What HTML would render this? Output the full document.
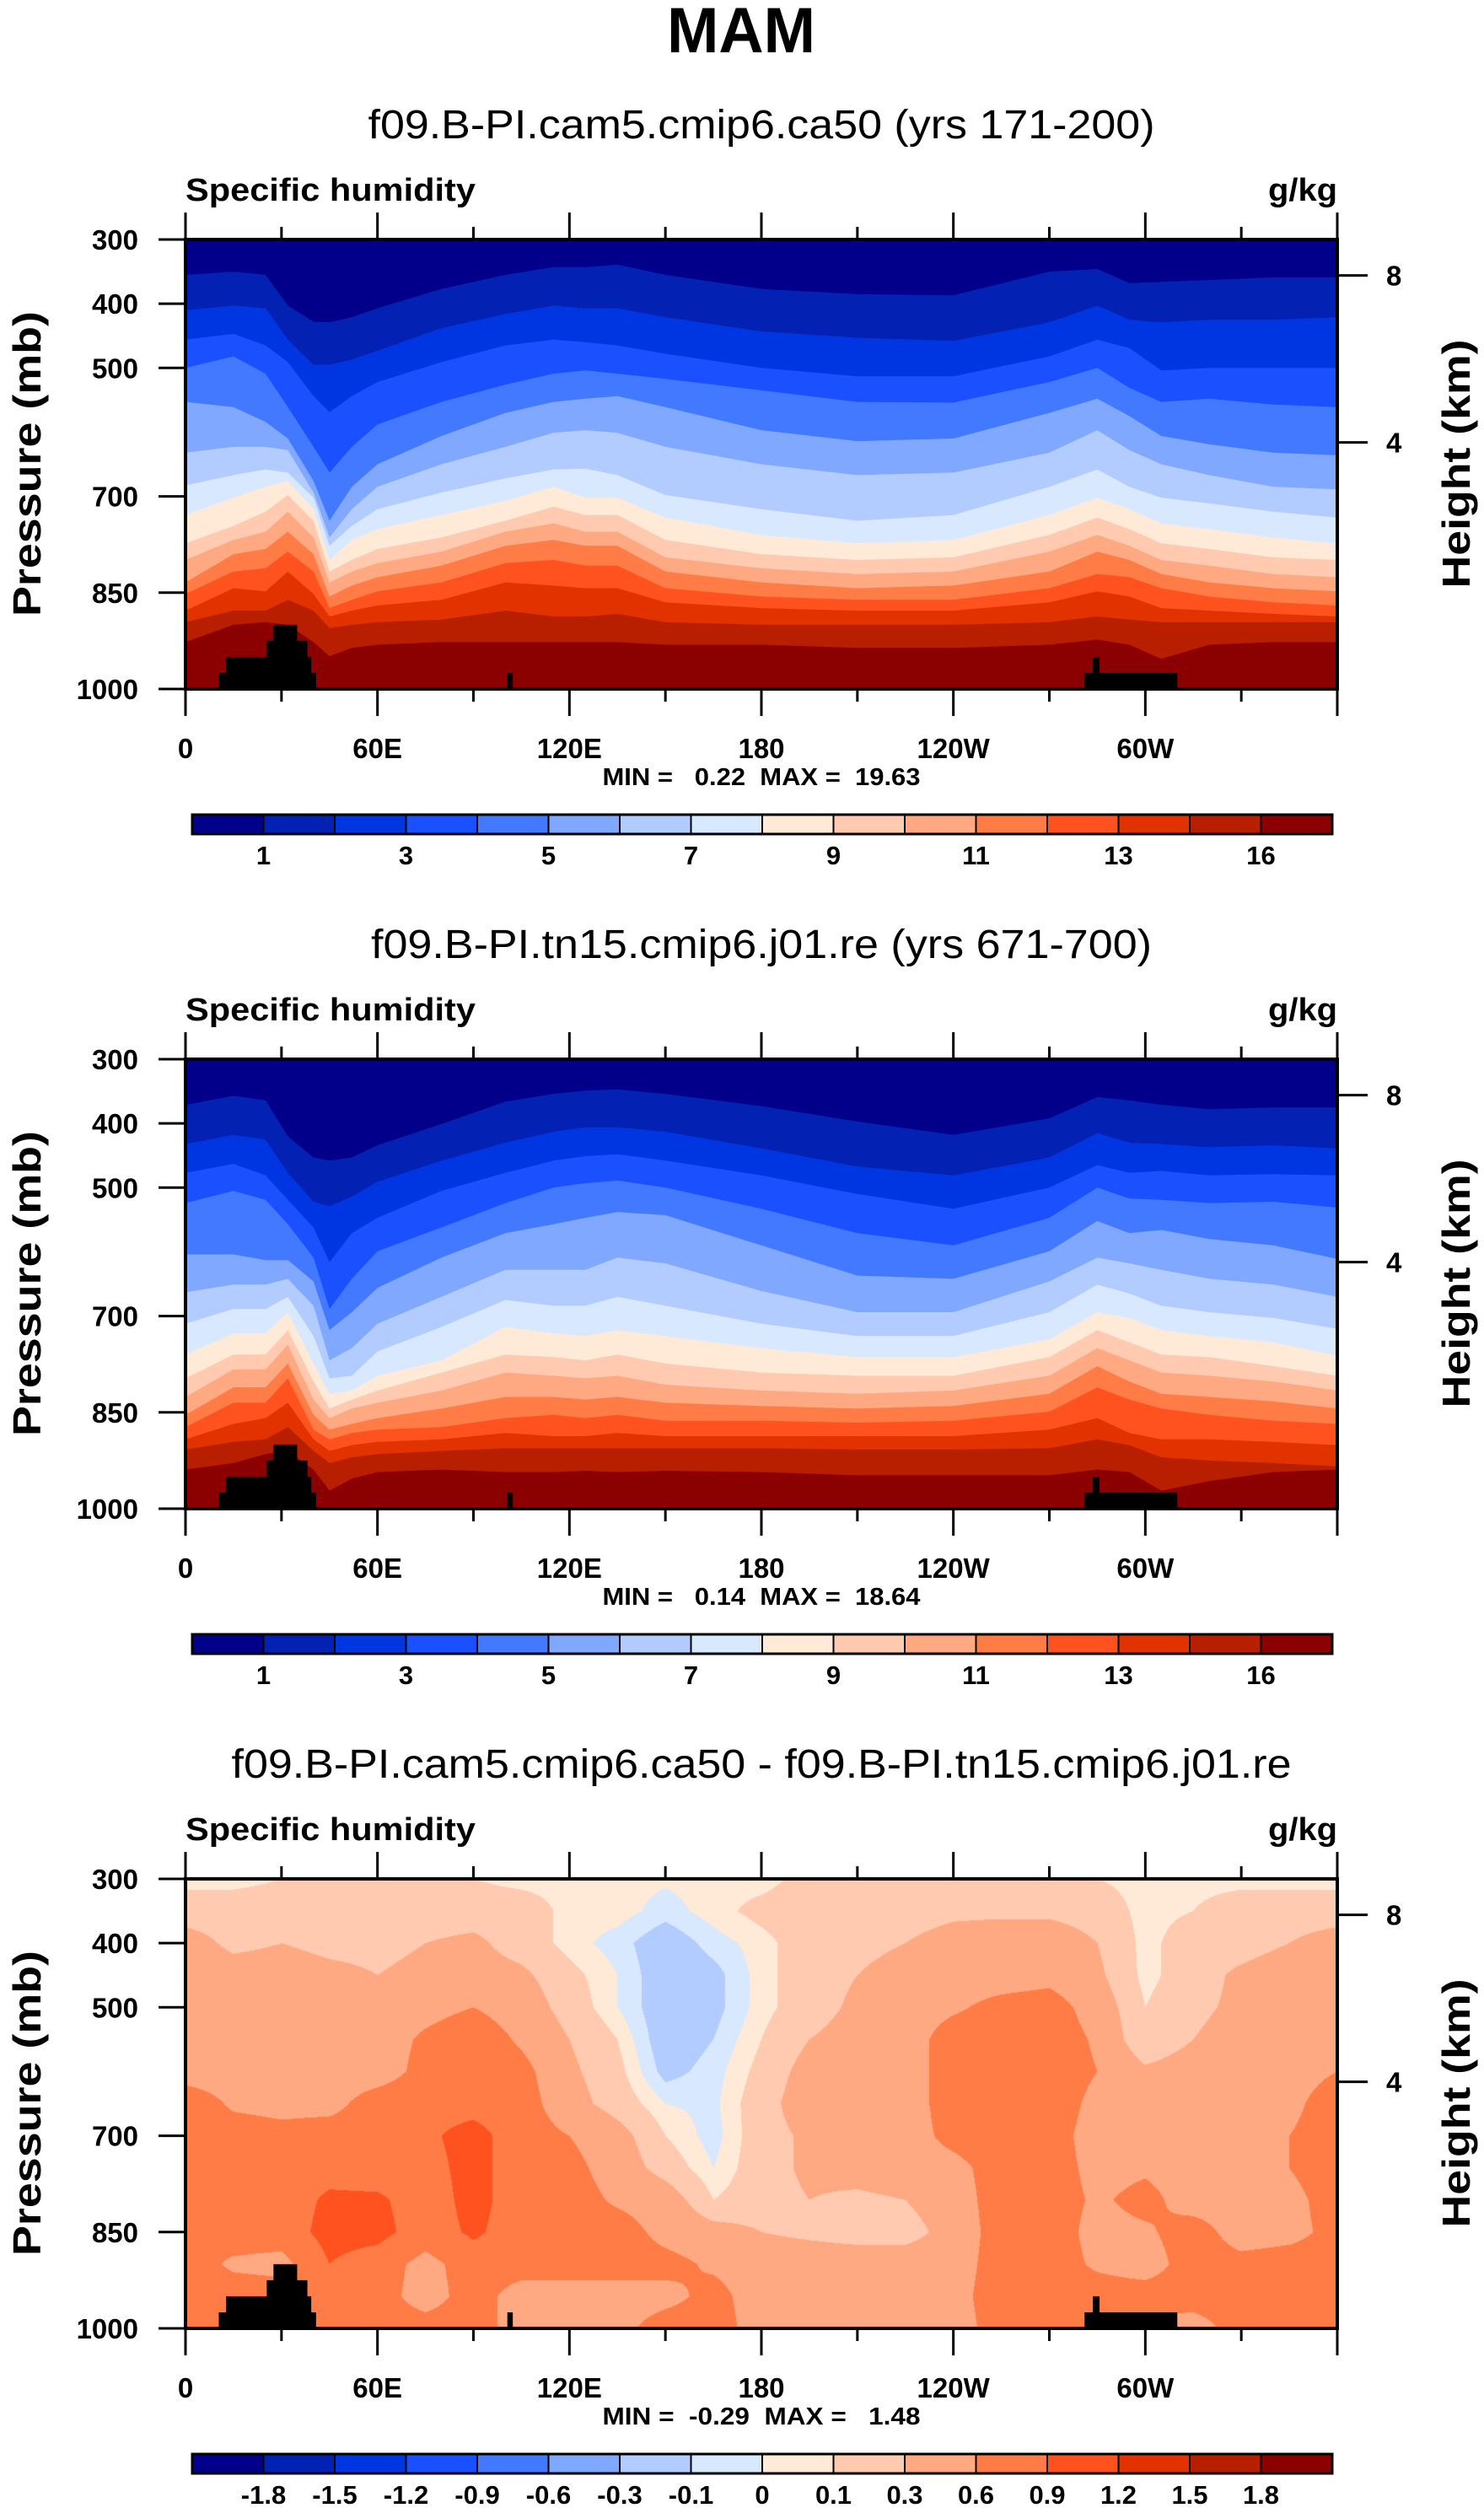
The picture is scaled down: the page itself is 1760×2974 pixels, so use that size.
<!DOCTYPE html>
<html><head><meta charset="utf-8">
<style>
html,body{margin:0;padding:0;background:#fff;}
#wrap{position:relative;width:1760px;height:2974px;overflow:hidden;background:#fff;}
#diffCanvas{position:absolute;left:220px;top:2228px;z-index:1;}
#chart{position:absolute;left:0;top:0;z-index:2;}
text{font-family:"Liberation Sans",sans-serif;white-space:pre;}
</style></head>
<body>
<div id="wrap">
<canvas id="diffCanvas" width="1366" height="533"></canvas>
<svg id="chart" width="1760" height="2974" xmlns="http://www.w3.org/2000/svg">
<text x="879" y="62" font-size="76" font-weight="bold" text-anchor="middle" textLength="176" lengthAdjust="spacingAndGlyphs">MAM</text>
</svg>
</div>
<script>
// ---------------- data ----------------
const lonSamples = [0,15,25,32,40,45,52,60,80,100,115,125,135,150,180,210,240,270,285,295,305,320,340,360];
// pressure (hPa) of each contour boundary (band k/k+1) at lonSamples — panel 1
const panel1Boundaries = [
 [355,350,355,403,428,429,421,407,377,355,343,343,339,355,377,385,387,350,346,368,366,363,359,359],
 [410,403,407,456,495,495,487,473,438,416,403,407,407,421,443,453,458,429,403,425,429,425,425,421],
 [456,447,465,491,544,569,544,522,491,465,456,460,465,478,500,513,513,482,456,469,504,500,500,500],
 [500,482,509,561,623,663,623,588,553,526,509,504,509,517,535,553,554,522,500,531,553,548,557,561],
 [553,561,584,610,676,738,685,650,606,570,553,548,544,561,597,614,610,570,548,575,606,619,632,636],
 [632,623,623,628,694,764,720,685,650,623,601,597,601,623,650,667,663,632,597,628,650,667,685,689],
 [683,667,658,663,702,777,746,720,694,672,658,657,667,698,720,738,729,685,658,685,702,711,724,733],
 [729,702,685,676,720,799,768,751,729,707,685,702,702,733,760,773,768,729,702,720,742,751,764,773],
 [773,746,724,698,738,817,799,782,764,738,716,729,729,768,790,799,795,760,733,751,773,782,795,799],
 [799,768,755,724,764,834,817,804,786,755,742,755,755,795,812,821,817,786,760,777,799,808,821,826],
 [834,790,782,755,790,856,839,826,808,777,768,777,777,817,834,843,839,817,786,799,821,834,843,848],
 [852,817,812,786,817,874,861,848,834,804,799,808,808,843,856,861,861,843,821,826,843,856,865,870],
 [878,843,848,817,852,887,878,870,861,834,839,843,843,865,874,878,878,865,848,856,874,878,883,887],
 [896,878,878,861,878,905,900,896,892,878,887,887,883,896,900,900,900,896,887,892,896,896,896,896],
 [927,900,896,900,927,949,936,931,927,927,927,927,927,931,931,936,936,931,923,931,953,931,927,927]
];
// panel 2
const panel2Boundaries = [
 [371,357,364,420,453,458,453,434,401,366,354,349,347,354,373,397,418,392,359,364,371,378,375,375],
 [432,418,425,477,522,529,514,491,458,430,413,406,406,413,439,467,481,453,415,430,432,437,434,439],
 [477,463,481,519,562,616,571,547,505,477,458,451,448,458,481,510,533,500,465,477,474,481,479,481],
 [524,505,519,557,609,689,642,599,562,524,500,493,489,500,533,571,590,547,500,517,519,524,522,531],
 [604,604,613,613,646,722,694,656,609,571,557,547,538,543,590,637,642,599,552,571,566,580,590,611],
 [663,651,651,642,684,769,750,712,670,628,628,628,609,618,661,694,694,646,609,618,628,642,651,670],
 [712,689,689,670,731,797,793,755,717,675,684,684,670,684,712,731,731,694,651,665,684,694,703,720],
 [760,727,727,694,774,821,816,793,769,717,727,731,722,731,750,764,764,736,694,703,722,731,741,762],
 [797,760,760,722,802,844,830,816,788,760,764,769,760,774,788,793,793,764,722,741,760,764,778,793],
 [826,783,783,745,830,859,844,835,816,788,793,797,793,807,816,821,816,793,750,769,788,793,802,816],
 [854,811,811,774,854,877,868,859,844,826,826,830,826,835,840,844,840,821,778,802,821,826,833,844],
 [873,835,835,797,877,892,882,877,873,859,854,859,854,863,863,866,863,849,811,830,844,854,863,868],
 [892,868,859,835,892,910,901,896,892,882,887,887,882,887,887,887,887,877,859,882,892,892,896,901],
 [908,896,892,873,910,929,920,915,910,906,906,906,906,906,906,908,908,906,892,901,920,925,929,934],
 [939,929,915,910,939,972,953,943,939,943,943,941,943,941,943,948,948,948,939,943,972,957,943,939]
];
// difference field grid (g/kg): rows = diffPres, cols = diffLons
const diffLons = [0,15,30,45,60,75,90,105,120,135,150,165,180,195,210,225,240,255,270,285,300,315,330,345,360];
const diffPres = [300,350,400,450,500,550,600,650,700,750,800,850,900,950,1000];
const diffValues = [
 [0.05,0.05,0.1,0.1,0.1,0.1,0.1,0.05,0.05,0.05,0.02,0.05,0.05,0.15,0.15,0.2,0.2,0.2,0.2,0.1,0.05,0.05,0.05,0.05,0.05],
 [0.2,0.2,0.2,0.2,0.2,0.2,0.2,0.2,0.05,0.05,-0.05,0.05,0.15,0.2,0.2,0.2,0.25,0.25,0.25,0.2,0.05,0.1,0.2,0.2,0.2],
 [0.4,0.25,0.3,0.25,0.25,0.3,0.35,0.2,0.05,-0.05,-0.2,-0.05,0.05,0.2,0.2,0.3,0.4,0.45,0.45,0.3,0.05,0.2,0.2,0.3,0.4],
 [0.45,0.4,0.4,0.35,0.3,0.35,0.4,0.35,0.15,0.0,-0.2,-0.15,0.05,0.2,0.3,0.45,0.45,0.45,0.5,0.35,0.05,0.2,0.35,0.45,0.45],
 [0.45,0.45,0.45,0.45,0.45,0.5,0.6,0.45,0.2,0.0,-0.2,-0.15,0.05,0.2,0.35,0.45,0.55,0.7,0.75,0.45,0.1,0.25,0.35,0.45,0.45],
 [0.45,0.45,0.45,0.45,0.45,0.65,0.8,0.55,0.3,0.1,-0.2,-0.1,0.1,0.3,0.4,0.45,0.75,0.8,0.8,0.55,0.1,0.3,0.4,0.45,0.45],
 [0.45,0.45,0.45,0.45,0.45,0.7,0.8,0.7,0.35,0.15,-0.15,-0.05,0.15,0.4,0.45,0.45,0.75,0.8,0.8,0.6,0.35,0.45,0.45,0.45,0.6],
 [0.8,0.55,0.5,0.5,0.75,0.8,0.8,0.75,0.4,0.2,0.0,-0.03,0.2,0.45,0.45,0.45,0.75,0.8,0.8,0.5,0.45,0.45,0.45,0.5,0.8],
 [0.75,0.75,0.7,0.75,0.75,0.85,1.0,0.75,0.6,0.4,0.1,-0.05,0.2,0.35,0.4,0.45,0.7,0.8,0.75,0.45,0.45,0.45,0.45,0.6,0.8],
 [0.75,0.75,0.75,0.8,0.75,0.8,1.0,0.75,0.7,0.45,0.2,0.0,0.2,0.35,0.4,0.45,0.5,0.75,0.75,0.5,0.55,0.45,0.45,0.6,0.8],
 [0.75,0.75,0.75,0.95,0.95,0.75,1.0,0.75,0.75,0.55,0.45,0.1,0.2,0.3,0.25,0.3,0.45,0.75,0.75,0.55,0.7,0.45,0.45,0.5,0.75],
 [0.6,0.75,0.75,1.0,1.0,0.75,0.95,0.75,0.75,0.75,0.5,0.4,0.3,0.25,0.2,0.2,0.4,0.75,0.75,0.5,0.55,0.75,0.45,0.5,0.7],
 [0.75,0.55,0.5,0.9,0.75,0.5,0.75,0.75,0.75,0.75,0.7,0.55,0.45,0.45,0.45,0.45,0.45,0.75,0.75,0.55,0.45,0.75,0.7,0.75,0.75],
 [0.75,0.75,0.75,0.75,0.75,0.45,0.75,0.45,0.45,0.45,0.5,0.7,0.45,0.45,0.45,0.45,0.5,0.75,0.75,0.75,0.75,0.75,0.75,0.75,0.75],
 [0.75,0.75,0.75,0.75,0.75,0.75,0.75,0.45,0.45,0.5,0.75,0.75,0.45,0.45,0.45,0.45,0.45,0.75,0.8,0.75,0.5,0.45,0.75,0.75,0.75]
];
const diffLevels = [-1.8,-1.5,-1.2,-0.9,-0.6,-0.3,-0.1,0,0.1,0.3,0.6,0.9,1.2,1.5,1.8];
// topography (surface pressure blocks)
const landLonStart = [10.4,12.7,25.4,27.5,100.6,281,283.6];
const landLonEnd = [40.8,39.3,38.1,34.9,102.3,310,285.7];
const landP = [975,950,925,900,975,975,950];
// axes
const lonTicks = [0,30,60,90,120,150,180,210,240,270,300,330,360];
const lonLabelVals = [0,60,120,180,240,300];
const lonLabels = ['0','60E','120E','180','120W','60W'];
const presTicks = [300,400,500,700,850,1000];
const heightTickP = [356,616];
const heightLabels = ['8','4'];
const cbLabelsQ = ['1','3','5','7','9','11','13','16'];
const cbLabelsQPos = [1,3,5,7,9,11,13,15];
const cbLabelsD = ['-1.8','-1.5','-1.2','-0.9','-0.6','-0.3','-0.1','0','0.1','0.3','0.6','0.9','1.2','1.5','1.8'];
const cbLabelsDPos = [1,2,3,4,5,6,7,8,9,10,11,12,13,14,15];
const subtitles = ['f09.B-PI.cam5.cmip6.ca50 (yrs 171-200)','f09.B-PI.tn15.cmip6.j01.re (yrs 671-700)','f09.B-PI.cam5.cmip6.ca50 - f09.B-PI.tn15.cmip6.j01.re'];
const minMax = ['MIN =   0.22  MAX =  19.63','MIN =   0.14  MAX =  18.64','MIN =  -0.29  MAX =   1.48'];

// ---------------- style/layout ----------------
const colors = ['#02008a','#0321b2','#0035e2','#1a50ff','#4279ff','#80a8ff','#b3ccff','#d8e8ff','#ffead8','#ffcab0','#ffa982','#ff7c46','#ff521e','#e23200','#b81f00','#8b0000'];
const subtitleW = [933,926,1257];
const NS = 'http://www.w3.org/2000/svg';
const svg = document.getElementById('chart');
const PL = 220, PR = 1586, PW = 1366, PH = 533;
const panelOffsets = [0, 972, 1944];
function xOf(lon){ return PL + lon/360*PW; }
function yOf(p, top){ return top + (p-300)/700*PH; }
function mk(tag, attrs, parent){
  const e = document.createElementNS(NS, tag);
  for (const k in attrs) e.setAttribute(k, attrs[k]);
  (parent||svg).appendChild(e);
  return e;
}
function txt(str, attrs, parent){ const t = mk('text', attrs, parent); t.textContent = str; return t; }

function drawLayers(g, top, bounds){
  const bg = mk('rect', {x:PL, y:top, width:PW, height:PH, fill:colors[0]}, g);
  
  
  const bottom = top + PH;
  for (let k = 0; k < bounds.length; k++){
    const pts = lonSamples.map((lon,i) => xOf(lon).toFixed(1)+','+yOf(bounds[k][i], top).toFixed(1));
    pts.push(PR+','+bottom, PL+','+bottom);
    const poly = mk('polygon', {points: pts.join(' '), fill: colors[k+1]}, g);
    
    
  }
}

function drawDiffCanvas(){
  const cv = document.getElementById('diffCanvas');
  const ctx = cv.getContext('2d');
  const img = ctx.createImageData(PW, PH);
  const rgb = colors.map(c => [parseInt(c.slice(1,3),16), parseInt(c.slice(3,5),16), parseInt(c.slice(5,7),16)]);
  const nL = diffLons.length, nP = diffPres.length;
  for (let py = 0; py < PH; py++){
    const p = 300 + (py+0.5)/PH*700;
    let j = 0; while (j < nP-2 && diffPres[j+1] < p) j++;
    const fy = Math.min(1, Math.max(0, (p - diffPres[j])/(diffPres[j+1]-diffPres[j])));
    for (let px = 0; px < PW; px++){
      const lon = (px+0.5)/PW*360;
      let i = 0; while (i < nL-2 && diffLons[i+1] < lon) i++;
      const fx = (lon - diffLons[i])/(diffLons[i+1]-diffLons[i]);
      const v = (1-fy)*((1-fx)*diffValues[j][i] + fx*diffValues[j][i+1]) + fy*((1-fx)*diffValues[j+1][i] + fx*diffValues[j+1][i+1]);
      let idx = 0; while (idx < diffLevels.length && v >= diffLevels[idx]) idx++;
      const c = rgb[idx], o = (py*PW+px)*4;
      img.data[o]=c[0]; img.data[o+1]=c[1]; img.data[o+2]=c[2]; img.data[o+3]=255;
    }
  }
  ctx.putImageData(img, 0, 0);
}

function drawPanel(n){
  const off = panelOffsets[n];
  const top = 284 + off, bottom = top + PH;
  const g = mk('g', {});
  
  
  if (n === 0) drawLayers(g, top, panel1Boundaries);
  if (n === 1) drawLayers(g, top, panel2Boundaries);
  for (let i = 0; i < landP.length; i++){
    const r = mk('rect', {x: xOf(landLonStart[i]), y: yOf(landP[i], top), width: xOf(landLonEnd[i]) - xOf(landLonStart[i]), height: bottom - yOf(landP[i], top), fill:'#000'}, g);
    
    
  }
  const fr = mk('rect', {x:PL, y:top, width:PW, height:PH, fill:'none', stroke:'#000', 'stroke-width':4}, g);
  
  
  lonTicks.forEach(lon => {
    const major = lon % 60 === 0;
    const len = major ? 32 : 15;
    const t1 = mk('line', {x1:xOf(lon), x2:xOf(lon), y1:top, y2:top-len, stroke:'#000', 'stroke-width':3}, g);
    
    
    const t2 = mk('line', {x1:xOf(lon), x2:xOf(lon), y1:bottom, y2:bottom+len, stroke:'#000', 'stroke-width':3}, g);
    
    
  });
  lonLabelVals.forEach((lon,i) => {
    const t = txt(lonLabels[i], {x:xOf(lon), y:899+off, 'font-size':33, 'font-weight':'bold', 'text-anchor':'middle'}, g);
    
    
  });
  presTicks.forEach(p => {
    const l = mk('line', {x1:PL, x2:PL-32, y1:yOf(p,top), y2:yOf(p,top), stroke:'#000', 'stroke-width':3}, g);
    
    
    const t = txt(String(p), {x:164, y:yOf(p,top)+12, 'font-size':33, 'font-weight':'bold', 'text-anchor':'end'}, g);
    
    
  });
  heightTickP.forEach((p,i) => {
    const l = mk('line', {x1:PR, x2:PR+36, y1:yOf(p,top), y2:yOf(p,top), stroke:'#000', 'stroke-width':3}, g);
    
    
    const t = txt(heightLabels[i], {x:1644, y:yOf(p,top)+12, 'font-size':33, 'font-weight':'bold'}, g);
    
    
  });
  const st = txt(subtitles[n], {x:903, y:164+off, 'font-size':48, 'text-anchor':'middle', textLength:subtitleW[n], lengthAdjust:'spacingAndGlyphs'}, g);
  
  
  const ls = txt('Specific humidity', {x:220, y:238+off, 'font-size':38, 'font-weight':'bold', textLength:344, lengthAdjust:'spacingAndGlyphs'}, g);
  
  
  const un = txt('g/kg', {x:1586, y:238+off, 'font-size':38, 'font-weight':'bold', 'text-anchor':'end', textLength:82, lengthAdjust:'spacingAndGlyphs'}, g);
  
  
  const ya = txt('Pressure (mb)', {x:0, y:0, 'font-size':46, 'font-weight':'bold', 'text-anchor':'middle', textLength:362, lengthAdjust:'spacingAndGlyphs', transform:'translate(48,'+(550+off)+') rotate(-90)'}, g);
  
  
  const ya2 = txt('Height (km)', {x:0, y:0, 'font-size':46, 'font-weight':'bold', 'text-anchor':'middle', textLength:295, lengthAdjust:'spacingAndGlyphs', transform:'translate(1743,'+(550+off)+') rotate(-90)'}, g);
  
  
  const mm = txt(minMax[n], {x:903, y:931+off, 'font-size':29, 'font-weight':'bold', 'text-anchor':'middle', textLength:377, lengthAdjust:'spacingAndGlyphs'}, g);
  
  
  const cb = mk('g', {}, g);
  
  
  const cx0 = 228, cx1 = 1580, cy = 966+off, ch = 23, bw = (cx1-cx0)/16;
  for (let k = 0; k < 16; k++){
    const b = mk('rect', {x:cx0+k*bw, y:cy, width:bw, height:ch, fill:colors[k], stroke:'#000', 'stroke-width':2}, cb);
    
    
  }
  const ob = mk('rect', {x:cx0, y:cy, width:cx1-cx0, height:ch, fill:'none', stroke:'#000', 'stroke-width':3}, cb);
  
  
  const labs = n < 2 ? cbLabelsQ : cbLabelsD;
  const pos = n < 2 ? cbLabelsQPos : cbLabelsDPos;
  labs.forEach((s,i) => {
    const t = txt(s, {x:cx0+pos[i]*bw, y:1025+off, 'font-size':31, 'font-weight':'bold', 'text-anchor':'middle'}, cb);
    
    
  });
}

drawDiffCanvas();
drawPanel(0);
drawPanel(1);
drawPanel(2);
</script>
</body></html>
